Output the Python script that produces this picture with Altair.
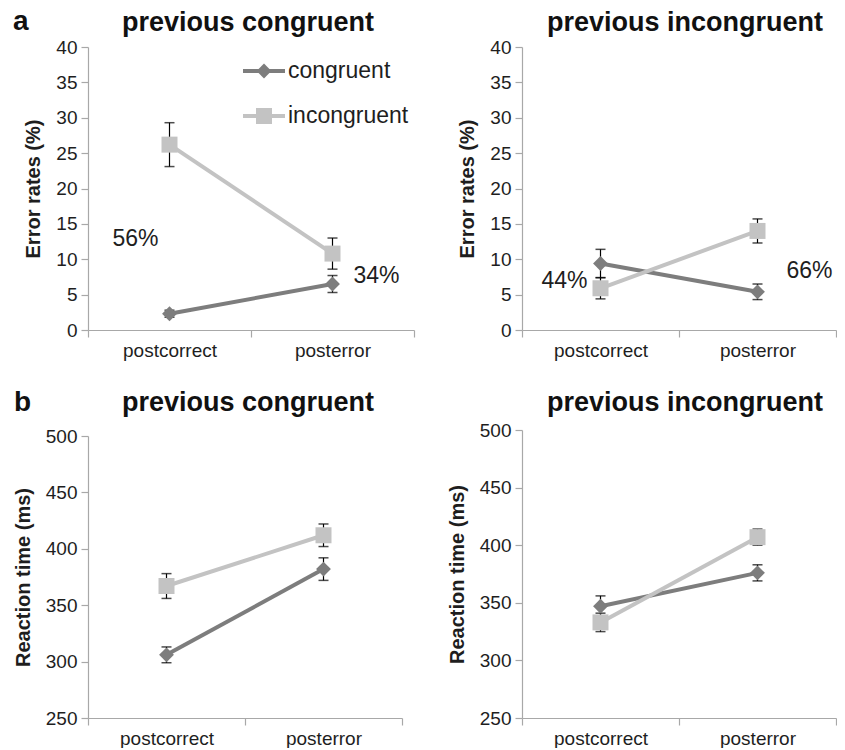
import altair as alt
import pandas as pd

categories = ["postcorrect", "posterror"]
series_names = ["congruent", "incongruent"]

# Error rates (%)
err_prevcong_cong = [2.3, 6.5]
err_prevcong_cong_se = [0.5, 1.2]
err_prevcong_incong = [26.2, 10.8]
err_prevcong_incong_se = [3.1, 2.2]
err_previnc_cong = [9.4, 5.4]
err_previnc_cong_se = [2.0, 1.1]
err_previnc_incong = [5.9, 14.0]
err_previnc_incong_se = [1.5, 1.7]

# Reaction time (ms)
rt_prevcong_cong = [306, 382]
rt_prevcong_cong_se = [7, 10]
rt_prevcong_incong = [367, 412]
rt_prevcong_incong_se = [11, 10]
rt_previnc_cong = [347, 376]
rt_previnc_cong_se = [9, 7]
rt_previnc_incong = [333, 407]
rt_previnc_incong_se = [8, 7]

# percentage annotations: (label, category, value)
ann_prevcong = [("56%", "postcorrect", 12.9), ("34%", "posterror", 7.6)]
ann_previnc = [("44%", "postcorrect", 6.9), ("66%", "posterror", 8.3)]

panel_titles = ["previous congruent", "previous incongruent"]
panel_letters = ["a", "b"]

FONT = "Liberation Sans"
DARK = "#7d7d7d"
LIGHT = "#c3c3c3"
TXT = "#1e1e1e"
AXC = "#a8a8a8"

color_scale = alt.Scale(domain=series_names, range=[DARK, LIGHT])


def make_df(cong, cong_se, inc, inc_se):
    rows = []
    for s, vals, ses in [("congruent", cong, cong_se), ("incongruent", inc, inc_se)]:
        for c, v, e in zip(categories, vals, ses):
            rows.append(dict(series=s, cond=c, value=v, lo=v - e, hi=v + e))
    return pd.DataFrame(rows)


def panel(df, domain, tick_values, ytitle, title, w, h, title_pos, annotations, ann_dx,
          letter=None, letter_pos=None, legend=False, yrange=None):
    xenc = alt.X(
        "cond:N", sort=categories,
        scale=alt.Scale(domain=categories, paddingInner=0, paddingOuter=0),
        axis=alt.Axis(title=None, tickBand="extent", labelAngle=0, labelPadding=4),
    )

    def yenc(field):
        sc = dict(domain=domain, nice=False, zero=False)
        if yrange is not None:
            sc["range"] = yrange
        return alt.Y(
            f"{field}:Q", title=ytitle,
            scale=alt.Scale(**sc),
            axis=alt.Axis(values=tick_values, titlePadding=12, labelPadding=4),
        )

    base = alt.Chart(df)
    layers = []
    layers.append(base.mark_rule(color="#000", strokeWidth=1.2).encode(x=xenc, y=yenc("lo"), y2="hi:Q"))
    layers.append(base.mark_tick(color="#000", thickness=1.5, size=10).encode(x=xenc, y=yenc("lo")))
    layers.append(base.mark_tick(color="#000", thickness=1.5, size=10).encode(x=xenc, y=yenc("hi")))
    layers.append(base.mark_line(strokeWidth=4).encode(
        x=xenc, y=yenc("value"),
        color=alt.Color("series:N", scale=color_scale, legend=None)))
    layers.append(base.transform_filter(alt.datum.series == "congruent").mark_point(
        shape="diamond", filled=True, size=220, opacity=1, color=DARK).encode(x=xenc, y=yenc("value")))
    layers.append(base.transform_filter(alt.datum.series == "incongruent").mark_point(
        shape="square", filled=True, size=256, opacity=1, color=LIGHT).encode(x=xenc, y=yenc("value")))

    for (lab, cond, val), dx in zip(annotations, ann_dx):
        adf = pd.DataFrame({"cond": [cond], "value": [val], "label": [lab]})
        layers.append(alt.Chart(adf).mark_text(
            dx=dx, fontSize=23, font=FONT, color=TXT).encode(x=xenc, y=yenc("value"), text="label:N"))

    if legend:
        one = pd.DataFrame({"series": series_names})
        for i, (s, shp, sz, col) in enumerate([("congruent", "diamond", 220, DARK),
                                                ("incongruent", "square", 256, LIGHT)]):
            ypix = 24 + 45 * i
            d = alt.Chart(one).transform_filter(alt.datum.series == s)
            layers.append(d.mark_rule(strokeWidth=4, color=col).encode(
                x=alt.value(155), x2=alt.value(197), y=alt.value(ypix)))
            layers.append(d.mark_point(shape=shp, filled=True, size=sz, opacity=1, color=col).encode(
                x=alt.value(176), y=alt.value(ypix)))
            layers.append(d.mark_text(align="left", baseline="middle", fontSize=23, font=FONT,
                                      color=TXT).encode(
                x=alt.value(200), y=alt.value(ypix), text="series:N"))

    tdf = pd.DataFrame({"t": [title]})
    layers.append(alt.Chart(tdf).mark_text(
        fontSize=27, fontWeight="bold", font=FONT, color="#111", align="center",
        baseline="alphabetic").encode(x=alt.value(title_pos[0]), y=alt.value(title_pos[1]), text="t:N"))

    if letter:
        ldf = pd.DataFrame({"t": [letter]})
        layers.append(alt.Chart(ldf).mark_text(
            fontSize=28, fontWeight="bold", font=FONT, color="#111", align="left",
            baseline="alphabetic").encode(
            x=alt.value(letter_pos[0]), y=alt.value(letter_pos[1]), text="t:N"))

    return alt.layer(*layers).properties(width=w, height=h)


p1 = panel(make_df(err_prevcong_cong, err_prevcong_cong_se, err_prevcong_incong, err_prevcong_incong_se),
           [0, 40], list(range(0, 41, 5)), "Error rates (%)", panel_titles[0], 326, 283, (160, -16),
           ann_prevcong, [-34, 44], letter=panel_letters[0], letter_pos=(-75, -17), legend=True)
p2 = panel(make_df(err_previnc_cong, err_previnc_cong_se, err_previnc_incong, err_previnc_incong_se),
           [0, 40], list(range(0, 41, 5)), "Error rates (%)", panel_titles[1], 314, 283, (163, -16),
           ann_previnc, [-36, 52])
p3 = panel(make_df(rt_prevcong_cong, rt_prevcong_cong_se, rt_prevcong_incong, rt_prevcong_incong_se),
           [250, 500], list(range(250, 501, 50)), "Reaction time (ms)", panel_titles[0], 314, 288, (160, -19),
           [], [], letter=panel_letters[1], letter_pos=(-74, -19), yrange=[288, 6])
p4 = panel(make_df(rt_previnc_cong, rt_previnc_cong_se, rt_previnc_incong, rt_previnc_incong_se),
           [250, 500], list(range(250, 501, 50)), "Reaction time (ms)", panel_titles[1], 314, 288, (163, -19),
           [], [])

chart = alt.concat(
    p1, p2, p3, p4, columns=2, spacing={"row": 100, "column": 108}, bounds="flush"
).properties(
    padding={"left": 5, "top": 0, "right": 0, "bottom": 0}
).configure_view(
    stroke=None
).configure_axis(
    grid=False, domainColor=AXC, tickColor=AXC, tickSize=7, domainWidth=1.2, tickWidth=1.2,
    labelFont=FONT, labelFontSize=19, labelColor=TXT,
    titleFont=FONT, titleFontSize=20, titleFontWeight="bold", titleColor=TXT,
)

chart.save("out.html", embed_options={"renderer": "svg", "actions": False})
